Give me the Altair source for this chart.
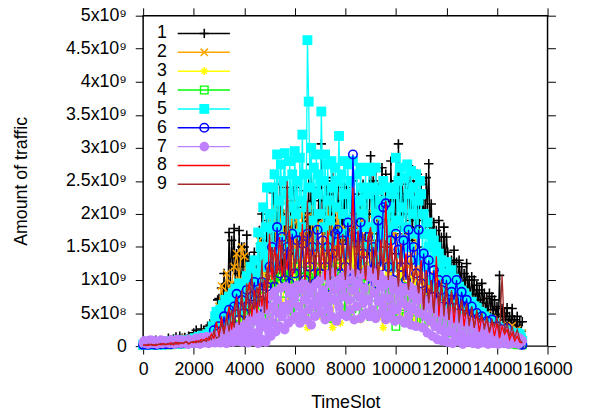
import altair as alt
import pandas as pd

# Time slots (x): fine grid for the densest series, coarse grid for the others
timeslots_fine = list(range(0, 15001, 50))
timeslots = list(range(0, 15001, 100))

# Traffic values, in units of 1e7
s1 = [3,6,2,5,8,3,4,7,2,6,9,3,5,4,8,2,6,5,3,7,
      12,6,9,5,11,8,14,7,10,15,6,12,9,13,7,11,15,8,10,14,
      20,12,24,14,18,10,26,16,22,12,18,30,15,32,22,28,40,25,45,70,
      72,45,88,60,110,50,95,70,172,95,160,120,178,85,140,110,175,90,150,120,
      150,112,168,90,135,80,128,100,142,75,120,95,175,110,200,130,160,90,190,120,
      200,120,150,232,170,110,215,140,245,160,100,200,130,240,150,180,95,220,140,235,
      200,130,240,150,180,110,210,160,235,120,190,245,140,275,170,220,100,200,150,240,
      190,306,150,220,175,250,140,230,120,190,255,160,210,100,240,180,130,220,170,245,
      160,240,180,130,220,170,250,110,200,150,230,140,210,120,245,180,160,230,140,200,
      288,170,250,200,265,160,240,130,190,270,220,150,260,180,240,140,280,200,230,170,
      250,190,306,230,180,255,200,245,170,230,273,190,250,160,245,210,180,260,150,220,
      245,190,230,170,255,205,276,180,215,150,187,120,175,100,190,130,165,110,180,120,
      165,142,100,118,130,85,145,100,127,80,130,95,120,75,110,90,125,80,100,70,
      105,78,100,60,92,70,85,55,95,65,80,50,72,45,80,55,75,42,70,48,
      60,35,107,45,57,30,50,40,58,35,45,25,57,30,40,20,45,18,37,22,
      37]
s2 = [3,5,2,6,4,3,7,4,5,8,
      6,9,5,10,7,11,8,12,9,10,
      11,14,10,16,12,20,15,25,35,45,
      60,91,55,110,80,95,120,140,100,150,
      136,95,120,80,130,90,160,110,140,95,
      190,120,210,130,170,220,140,200,130,215,
      140,190,125,220,150,195,130,210,140,185,
      120,200,135,215,140,190,125,205,140,180,
      120,195,130,175,115,185,120,210,140,180,
      130,200,125,190,140,170,120,185,110,175,
      165,110,150,100,175,120,140,95,160,105,
      140,90,125,85,110,80,105,70,95,65,
      90,70,85,97,65,80,55,70,60,50,
      60,42,55,40,50,35,48,30,42,28,
      36,25,31,22,28,20,31,18,25,15,
      20]
s3 = [2,3,1,3,2,4,2,3,4,3,
      4,3,5,4,5,6,4,6,5,7,
      6,8,7,10,9,12,10,14,12,20,
      16,28,22,35,25,45,30,55,35,70,
      40,60,45,80,50,90,45,110,55,100,
      40,120,60,95,140,50,110,70,130,45,
      120,80,140,50,125,28,90,130,60,115,
      45,120,70,135,40,28,124,85,35,140,
      60,130,45,145,80,125,40,140,70,120,
      50,130,90,115,45,28,120,60,105,40,
      100,50,115,45,90,60,105,40,95,35,
      80,45,90,35,70,40,75,30,65,28,
      55,25,60,22,50,18,45,15,40,12,
      35,12,30,10,28,9,25,8,20,7,
      18,6,15,5,12,5,10,4,6,3,
      3]
s4 = [1,2,1,2,1,3,2,2,3,2,
      3,2,4,3,4,3,5,4,5,4,
      5,6,5,7,6,8,7,9,8,12,
      10,16,12,22,15,30,18,40,22,55,
      28,60,35,70,30,85,40,75,45,95,
      42,100,60,110,45,105,80,115,55,110,
      50,120,75,105,45,115,85,110,60,120,
      50,105,80,115,42,110,70,120,55,105,
      48,110,85,100,50,95,70,120,60,105,
      45,110,75,100,55,95,80,90,60,85,
      30,95,60,90,45,80,65,85,40,80,
      38,75,50,70,38,65,30,60,25,55,
      22,50,20,45,18,40,15,38,12,35,
      12,30,10,28,9,24,8,22,7,20,
      6,15,5,12,4,10,3,6,2,4,
      2]
s5 = [2,3,5,2,4,3,6,2,5,3,4,6,3,5,2,4,7,3,5,4,
      5,3,7,4,6,8,4,5,9,6,4,7,5,8,6,9,5,7,10,6,
      8,12,7,10,14,9,11,16,10,13,12,18,14,22,16,30,20,45,52,35,
      40,55,32,62,45,70,38,58,75,48,65,80,52,87,60,72,95,55,80,68,
      92,65,106,78,88,120,70,100,130,85,110,172,95,150,120,210,140,180,240,130,
      200,150,240,120,260,180,290,140,220,275,160,250,292,190,230,150,280,210,260,170,
      295,200,250,140,285,220,320,180,260,210,463,370,240,300,190,270,150,290,230,260,
      200,355,250,180,290,150,275,220,190,280,240,160,270,210,250,318,170,260,200,280,
      230,140,275,190,250,160,280,210,170,260,220,130,270,200,240,180,265,150,230,270,
      265,180,240,150,270,200,236,130,220,170,250,140,200,240,160,210,120,230,180,240,
      285,190,250,140,270,210,160,255,180,275,230,150,265,200,240,170,260,130,220,250,
      230,140,200,170,120,187,150,100,170,130,160,90,150,120,140,80,130,110,127,75,
      127,90,110,60,115,80,102,50,95,70,90,45,84,60,80,40,75,55,67,48,
      67,40,60,30,58,45,52,25,50,38,45,22,42,32,40,20,37,28,35,18,
      30,15,28,22,26,12,24,18,22,10,22,16,20,8,18,14,20,10,18,12,
      8]
s6 = [2,3,2,4,3,2,4,3,5,3,
      4,3,5,4,6,4,5,6,4,7,
      6,8,5,9,7,10,8,12,24,10,
      30,15,45,20,55,25,60,79,40,70,
      50,85,60,75,97,55,80,97,65,90,
      120,150,90,180,110,165,100,150,95,170,
      110,160,90,155,100,170,120,150,95,176,
      110,160,120,150,90,140,170,176,110,160,
      120,187,100,290,165,110,187,140,100,165,
      110,150,95,190,120,210,216,120,160,100,
      170,146,120,160,100,176,130,150,110,176,
      95,140,80,130,75,115,70,100,85,60,
      100,60,82,70,100,50,82,60,70,45,
      60,40,50,35,45,30,38,25,40,28,
      30,20,25,18,27,12,15,8,5,3,
      2]
s7 = [5,8,4,7,3,6,9,5,4,8,6,3,7,5,9,4,6,8,5,7,
      6,4,9,5,7,3,8,10,5,6,4,9,7,5,8,3,10,6,4,7,
      8,4,12,6,10,3,13,7,9,5,14,8,4,11,6,15,9,5,12,7,
      16,5,20,9,12,22,4,18,25,10,14,6,28,12,20,8,30,15,6,24,
      30,12,35,5,25,42,15,8,38,50,20,4,45,28,10,62,35,6,55,25,
      75,15,60,35,82,22,70,50,30,88,45,60,25,90,55,35,80,65,40,88,
      75,45,92,60,35,85,50,95,70,40,90,55,80,32,88,65,45,95,60,75,
      100,50,85,65,40,108,75,55,95,45,112,70,85,38,100,60,90,48,105,75,
      95,45,116,70,55,100,85,40,110,60,95,75,42,108,65,88,50,115,70,45,
      105,55,112,80,42,98,68,108,50,90,60,100,40,95,72,48,100,58,85,38,
      96,55,92,40,80,65,88,35,84,60,45,90,32,78,55,85,30,70,50,80,
      76,28,70,45,64,20,60,38,72,15,56,30,65,10,50,25,58,8,48,20,
      50,6,45,22,52,4,40,15,48,8,38,18,42,3,35,12,40,6,32,10,
      36,4,30,15,34,3,28,10,32,5,26,12,30,3,24,8,28,4,22,10,
      22,3,20,8,24,4,18,6,20,3,16,8,15,4,14,6,13,3,12,6,
      8]
s8 = [1,2,1,3,2,1,3,2,4,2,
      3,5,2,6,3,5,4,7,3,6,
      5,8,6,10,8,12,9,18,12,37,
      15,45,20,40,60,25,55,75,35,80,
      40,70,97,45,85,50,95,60,100,55,
      170,100,150,110,165,105,140,115,175,105,
      120,160,110,185,100,150,115,170,105,160,
      110,150,100,175,120,160,105,170,115,155,
      105,165,115,240,110,175,120,150,100,165,
      180,110,150,100,160,115,220,105,165,115,
      150,95,155,105,140,90,130,100,120,80,
      130,55,115,70,100,50,136,45,95,60,
      85,40,80,35,75,45,70,30,60,35,
      55,28,50,22,45,30,40,20,38,15,
      35,12,30,18,25,10,20,8,15,6,
      5]
s9 = [2,1,3,2,1,3,2,4,2,3,
      4,2,5,3,6,4,5,7,4,6,
      7,5,8,6,10,7,14,10,22,12,
      14,35,18,48,22,55,28,70,32,85,
      40,95,45,110,55,90,60,130,50,120,
      100,150,95,140,110,160,100,250,105,160,
      115,165,100,170,110,220,95,175,115,160,
      105,170,115,155,100,175,110,150,120,170,
      100,160,115,180,105,165,110,170,105,150,
      175,110,160,100,150,115,160,100,150,110,
      145,90,150,100,130,85,140,95,120,80,
      120,55,110,65,100,50,95,60,100,45,
      95,40,85,50,80,35,70,45,65,30,
      60,28,55,35,50,25,45,22,40,30,
      45,18,107,20,35,15,30,12,25,10,
      5]

names = ["1", "2", "3", "4", "5", "6", "7", "8", "9"]
series_values = [s1, s2, s3, s4, s5, s6, s7, s8, s9]
series_times = [timeslots_fine, timeslots, timeslots, timeslots, timeslots_fine,
                timeslots, timeslots_fine, timeslots, timeslots]
y_ticks = [0, 5e8, 1e9, 1.5e9, 2e9, 2.5e9, 3e9, 3.5e9, 4e9, 4.5e9, 5e9]
x_ticks = [0, 2000, 4000, 6000, 8000, 10000, 12000, 14000, 16000]

# ---- styles ----
colors = ["#000000", "#ffa500", "#ffff00", "#00ff00", "#00ffff",
          "#0000ff", "#bf80ff", "#ff0000", "#a52a2a"]
PLUS = "M-1,0L1,0M0,-1L0,1"
CROSS = "M-1,-1L1,1M-1,1L1,-1"
STAR = "M-1,0L1,0M0,-1L0,1M-0.7,-0.7L0.7,0.7M-0.7,0.7L0.7,-0.7"
markers = [
    dict(shape=PLUS, filled=False, size=90, strokeWidth=1.6),
    dict(shape=CROSS, filled=False, size=55, strokeWidth=1.5),
    dict(shape=STAR, filled=False, size=60, strokeWidth=1.5),
    dict(shape="square", filled=False, size=60, strokeWidth=1.3),
    dict(shape="square", filled=True, size=100, strokeWidth=0),
    dict(shape="circle", filled=False, size=75, strokeWidth=1.6),
    dict(shape="circle", filled=True, size=95, strokeWidth=0),
    None,
    None,
]
FONT = "Liberation Sans"
W, H = 410, 335

xscale = alt.Scale(domain=[0, 16000], nice=False)
yscale = alt.Scale(domain=[0, 5e9], nice=False, zero=True)

label_expr = ("datum.value == 0 ? '0' : (datum.value < 1e9 ? (datum.value/1e8) + 'x10\u2078'"
              " : (datum.value/1e9) + 'x10\u2079')")

layers = []
for i, (name, vals, ts) in enumerate(zip(names, series_values, series_times)):
    df = pd.DataFrame({"t": ts, "v": [v * 1e7 for v in vals], "s": name})
    if i == 0:
        xax = alt.Axis(orient="bottom", values=x_ticks, title="TimeSlot", format="d",
                       labelOverlap=False, labelFlush=False, labelPadding=7,
                       titleY=57, titleBaseline="middle", titleX=W / 2)
        yax = alt.Axis(orient="left", values=y_ticks, title="Amount of traffic",
                       labelExpr=label_expr, labelPadding=9, labelOverlap=False,
                       labelFlush=False, titleX=-123, titleY=H / 2,
                       titleBaseline="middle", titleAlign="center")
    else:
        xax = None
        yax = None
    enc = dict(x=alt.X("t:Q", scale=xscale, axis=xax),
               y=alt.Y("v:Q", scale=yscale, axis=yax))
    line = alt.Chart(df).mark_line(color=colors[i], strokeWidth=1.3, clip=False).encode(**enc)
    layers.append(line)
    m = markers[i]
    if m is not None:
        pt = alt.Chart(df).mark_point(
            shape=m["shape"], filled=m["filled"], size=m["size"],
            strokeWidth=m["strokeWidth"], color=colors[i], opacity=1
        ).encode(x=alt.X("t:Q", scale=xscale, axis=None),
                 y=alt.Y("v:Q", scale=yscale, axis=None))
        layers.append(pt)

# mirrored ticks on top and right (gnuplot style)
mirror = alt.Chart(pd.DataFrame({"t": timeslots_fine, "v": [v * 1e7 for v in s1]})).mark_point(opacity=0).encode(
    x=alt.X("t:Q", scale=xscale, axis=alt.Axis(orient="top", values=x_ticks, labels=False, title=None)),
    y=alt.Y("v:Q", scale=yscale, axis=alt.Axis(orient="right", values=y_ticks, labels=False, title=None)),
)
layers.append(mirror)

# legend (upper-left inside the plot)
leg = pd.DataFrame({"s": names, "row": list(range(len(names)))})
leg_y = alt.Y("row:O", scale=alt.Scale(type="point", domain=list(range(len(names))),
                                        range=[18, 171], padding=0), axis=None)
layers.append(alt.Chart(leg).mark_text(align="right", baseline="middle", fontSize=18,
                                       font=FONT, color="black").encode(
    x=alt.value(24), y=leg_y, text="s:N"))
layers.append(alt.Chart(leg).mark_rule(strokeWidth=1.5).encode(
    x=alt.value(35), x2=alt.value(88), y=leg_y,
    color=alt.Color("s:N", scale=alt.Scale(domain=names, range=colors), legend=None)))
for i, name in enumerate(names):
    m = markers[i]
    if m is None:
        continue
    layers.append(alt.Chart(leg[leg.s == name]).mark_point(
        shape=m["shape"], filled=m["filled"], size=m["size"],
        strokeWidth=m["strokeWidth"], color=colors[i], opacity=1
    ).encode(x=alt.value(62), y=leg_y))

chart = alt.layer(*layers).resolve_scale(y="independent").resolve_axis(
    x="independent", y="independent"
).properties(
    width=W, height=H,
    autosize=alt.AutoSizeParams(type="none"),
    padding={"left": 137, "top": 5, "right": 40, "bottom": 64},
).configure_view(stroke="black", strokeWidth=1.5).configure_axis(
    labelFont=FONT, titleFont=FONT, labelFontSize=18, titleFontSize=18,
    labelColor="black", titleColor="black", titleFontWeight="normal",
    grid=False, domain=False, tickColor="black", tickSize=8, tickWidth=1,
)

chart.save("out.html", embed_options={"renderer": "svg", "actions": False})
